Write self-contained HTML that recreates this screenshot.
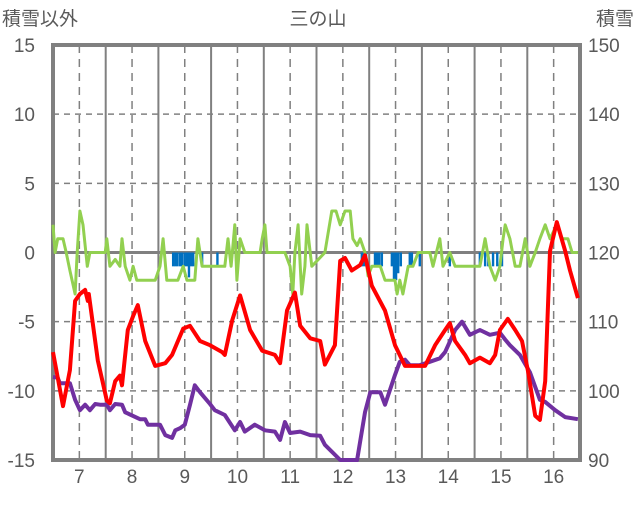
<!DOCTYPE html>
<html><head><meta charset="utf-8"><style>
html,body{margin:0;padding:0;background:#fff;}
svg text{font-family:"Liberation Sans","Noto Sans CJK JP",sans-serif;fill:#595959;}
</style></head><body>
<svg id="chart" width="636" height="501" xmlns="http://www.w3.org/2000/svg">
<g id="grid"></g>
<g id="bars"></g>
<g id="lines"></g>
<g id="labels"></g>
</svg>
<script>
const redT=[6.50,6.69,6.82,6.92,7.01,7.11,7.16,7.18,7.35,7.52,7.58,7.68,7.77,7.81,7.92,8.02,8.11,8.25,8.44,8.63,8.76,8.97,9.10,9.29,9.48,9.71,9.76,9.90,10.05,10.24,10.47,10.71,10.81,10.94,11.09,11.19,11.38,11.57,11.66,11.85,11.95,12.04,12.17,12.33,12.42,12.55,12.80,12.99,13.18,13.37,13.56,13.75,13.94,14.03,14.13,14.32,14.41,14.60,14.79,14.89,14.98,15.13,15.27,15.40,15.51,15.65,15.74,15.84,15.93,16.06,16.22,16.31,16.46];
const redV=[-7.2,-11.1,-8.5,-3.5,-3.0,-2.7,-3.5,-3.0,-7.8,-10.7,-10.9,-9.3,-8.9,-9.6,-5.6,-4.6,-3.8,-6.4,-8.2,-8.0,-7.4,-5.5,-5.3,-6.4,-6.7,-7.2,-7.4,-4.9,-3.1,-5.6,-7.1,-7.4,-8.0,-4.2,-2.9,-5.3,-6.2,-6.4,-8.1,-6.7,-0.6,-0.4,-1.3,-0.9,-0.2,-2.4,-4.2,-6.7,-8.2,-8.2,-8.2,-6.7,-5.6,-5.1,-6.4,-7.4,-8.0,-7.6,-8.0,-7.4,-5.6,-4.8,-5.6,-6.4,-8.5,-11.8,-12.1,-9.3,0.1,2.2,0.1,-1.3,-3.3];
const snowT=[6.50,6.59,6.63,6.82,6.92,7.01,7.11,7.20,7.30,7.39,7.52,7.58,7.68,7.81,7.87,8.15,8.25,8.30,8.53,8.63,8.76,8.82,8.91,9.00,9.10,9.19,9.29,9.48,9.57,9.76,9.95,10.05,10.14,10.33,10.52,10.71,10.81,10.90,11.00,11.19,11.38,11.57,11.66,11.95,12.27,12.42,12.52,12.71,12.80,12.99,13.08,13.18,13.27,13.46,13.65,13.84,13.94,14.13,14.26,14.41,14.60,14.79,14.98,15.08,15.17,15.36,15.55,15.74,15.84,16.03,16.22,16.46];
const snowV=[102.0,101.9,101.1,101.1,98.7,97.2,98.0,97.2,98.1,98.0,98.0,97.2,98.1,98.0,96.9,95.9,95.9,95.1,95.1,93.6,93.2,94.3,94.6,95.1,98.0,100.8,99.8,98.1,97.2,96.5,94.3,95.5,94.1,95.1,94.3,94.1,92.9,95.5,93.9,94.1,93.6,93.5,92.2,90.0,90.0,96.9,99.8,99.8,98.0,102.3,104.2,104.5,103.7,103.7,104.2,104.7,105.6,108.8,110.0,108.1,108.8,108.1,108.4,107.4,106.6,105.2,102.7,98.7,98.4,97.2,96.2,95.9];
const greenT=[6.50,6.54,6.59,6.69,6.75,6.82,6.92,6.96,7.01,7.07,7.15,7.20,7.49,7.52,7.58,7.68,7.77,7.81,7.87,7.96,8.02,8.09,8.44,8.53,8.59,8.66,8.87,8.97,9.04,9.19,9.25,9.33,9.57,9.76,9.82,9.88,9.95,9.99,10.05,10.14,10.43,10.47,10.52,10.56,10.90,11.00,11.05,11.09,11.15,11.22,11.28,11.32,11.41,11.66,11.79,11.87,11.95,12.04,12.14,12.19,12.27,12.33,12.42,12.48,12.55,12.71,12.80,12.99,13.03,13.08,13.14,13.24,13.33,13.43,13.65,13.71,13.84,13.90,14.03,14.13,14.60,14.70,14.79,14.89,14.98,15.04,15.08,15.17,15.27,15.36,15.46,15.55,15.65,15.74,15.84,15.93,16.06,16.16,16.27,16.35,16.46];
const greenV=[2,0,1,1,0,-1.3,-3,0,3,2,-1,0,0,1,-1,-0.5,-1,1,-1,-2,-1,-2,-2,-1,1,-2,-2,-1,-2,-2,1,-1,-1,-1,1,-1,2,-2,1,0,0,1,2,0,0,-1,-3,0,2,-3,-1,2,-1,0,3,3,2,3,3,1,0.5,1,0,-1.7,-1,-1,-2,-2,-3,-2,-3,-1,-1,0,0,-1,1,-1,0,-1,-1,1,-1,-2,-1,1,2,1,-1,-1,1,-1,0,1,2,1,2,1,1,0,0];
const barT=[8.78,8.82,8.86,8.91,8.95,9.00,9.04,9.08,9.12,9.16,9.33,9.62,12.36,12.40,12.44,12.61,12.65,12.69,12.74,12.93,12.97,13.01,13.05,13.10,13.27,13.31,13.46,14.03,14.60,14.70,14.76,14.85,14.93,15.02];
const barV=[-1,-1,-1,-1,-1,-1,-1,-1.8,-1,-1,-1,-1,-1,-1,-1,-1,-1,-1,-1,-1,-2,-2,-1.5,-1,-1,-1,-1,-1,-1,-1,-1,-1,-1,-1];
const dayLabels=["7","8","9","10","11","12","13","14","15","16"];
const leftTicks=[15,10,5,0,-5,-10,-15];
const rightTicks=[150,140,130,120,110,100,90];

const X0=53,X1=580,Y0=45,Y1=460,T0=6.5,T1=16.5;
const xs=t=>X0+(t-T0)/(T1-T0)*(X1-X0);
const yl=v=>Y0+(15-v)/30*(Y1-Y0);
const yr=v=>Y0+(150-v)/60*(Y1-Y0);
const NS="http://www.w3.org/2000/svg";
function mk(tag,parent,attrs){const e=document.createElementNS(NS,tag);for(const k in attrs)e.setAttribute(k,attrs[k]);parent.appendChild(e);return e;}
const grid=document.getElementById('grid'),bars=document.getElementById('bars'),lines=document.getElementById('lines'),labels=document.getElementById('labels');

leftTicks.forEach(v=>{
  if(v===15||v===-15)return;
  const y=yl(v);
  const l=mk('line',grid,{x1:X0,x2:X1,y1:y,y2:y,stroke:v===0?'#808080':'#808080','stroke-width':v===0?3:1.5,'stroke-dasharray':v===0?'none':'6,5'});
  
  
});
for(let d=7;d<=16;d++){
  const xd=xs(d);
  const l=mk('line',grid,{x1:xd,x2:xd,y1:Y0,y2:Y1,stroke:'#808080','stroke-width':1.5,'stroke-dasharray':'8,6'});
  
  
  const xm=xs(d+0.5);
  if(xm<X1-1){
    const s=mk('line',grid,{x1:xm,x2:xm,y1:Y0,y2:Y1,stroke:'#808080','stroke-width':2});
    
    
  }
}
const frame=mk('rect',grid,{x:X0,y:Y0,width:X1-X0,height:Y1-Y0,fill:'none',stroke:'#808080','stroke-width':4});



barT.forEach((t,i)=>{
  const y0=yl(0),y=yl(barV[i]);
  const r=mk('rect',bars,{x:xs(t)-1.2,y:y0,width:2.4,height:y-y0,fill:'#0070C0'});
  
  
});
function poly(T,V,yf,color,w,name){
  const p=mk('polyline',lines,{points:T.map((t,i)=>xs(t).toFixed(1)+','+yf(V[i]).toFixed(1)).join(' '),fill:'none',stroke:color,'stroke-width':w,'stroke-linejoin':'round'});
  
  
}
poly(greenT,greenV,yl,'#92D050',3,'line-green');
poly(snowT,snowV,yr,'#7030A0',4,'line-snow-depth');
poly(redT,redV,yl,'#FF0000',4,'line-temperature');

leftTicks.forEach(v=>{
  const t=mk('text',labels,{x:35,y:yl(v)+7,'text-anchor':'end','font-size':19});
  t.textContent=v;
  
  
});
rightTicks.forEach(v=>{
  const t=mk('text',labels,{x:588,y:yr(v)+7,'text-anchor':'start','font-size':19});
  t.textContent=v;
  
  
});
dayLabels.forEach((s,i)=>{
  const t=mk('text',labels,{x:xs(7+i),y:483,'text-anchor':'middle','font-size':19});
  t.textContent=s;
  
  
});
const titles=[["積雪以外",2,25,'start','left-axis-title'],["三の山",318,25,'middle','chart-title'],["積雪",634,25,'end','right-axis-title']];
titles.forEach(a=>{
  const t=mk('text',labels,{x:a[1],y:a[2],'text-anchor':a[3],'font-size':19});
  t.textContent=a[0];
  
  
});
</script>
</body></html>
